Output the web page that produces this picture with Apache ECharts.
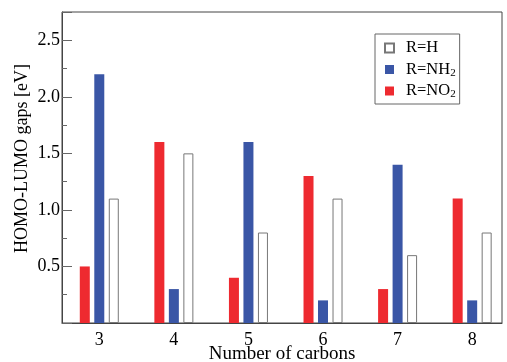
<!DOCTYPE html>
<html>
<head>
<meta charset="utf-8">
<script src="https://cdn.jsdelivr.net/npm/echarts@6/dist/echarts.min.js"></script>
<style>html,body{margin:0;padding:0;background:#fff}#c{width:507px;height:362px}</style>
</head>
<body>
<div id="c"></div>
<script>
var carbons = [3, 4, 5, 6, 7, 8];
var gapNO2 = [0.5, 1.6, 0.4, 1.3, 0.3, 1.1];
var gapNH2 = [2.2, 0.3, 1.6, 0.2, 1.4, 0.2];
var gapH   = [1.1, 1.5, 0.8, 1.1, 0.6, 0.8];
var seriesNames = ['R=NO2', 'R=NH2', 'R=H'];
var legendOrder = ['R=H', 'R=NH2', 'R=NO2'];
var xTitle = 'Number of carbons';
var yTitle = 'HOMO-LUMO gaps [eV]';

var FONT = 'Liberation Serif';
function pairs(vals) { return carbons.map(function (c, i) { return [c, vals[i]]; }); }

var chart = echarts.init(document.getElementById('c'), null, {renderer: 'canvas'});
chart.setOption({
  animation: false,
  backgroundColor: '#fff',
  textStyle: {fontFamily: FONT, color: '#000'},
  grid: {left: 62, top: 12, right: 5, bottom: 39, outerBoundsMode: 'none', containLabel: false,
    show: true, borderColor: '#444', borderWidth: 1, backgroundColor: 'transparent'},
  legend: {
    orient: 'vertical',
    left: 375, top: 34,
    data: legendOrder,
    borderColor: '#666', borderWidth: 1,
    padding: [5, 4, 4, 9],
    itemWidth: 9, itemHeight: 9,
    itemGap: 3.5,
    icon: 'rect',
    textStyle: {fontFamily: FONT, fontSize: 16.5, color: '#000', padding: [0, 0, 0, 7], lineHeight: 18,
      rich: {
        sub: {fontFamily: FONT, fontSize: 11, color: '#000', padding: [7, 0, 0, 0], lineHeight: 11}
      }},
    formatter: function (n) {
      return n.replace(/(\d)$/, '{sub|$1}');
    }
  },
  xAxis: {
    type: 'value', min: 2.5, max: 8.4, interval: 0.5,
    name: xTitle, nameLocation: 'middle', nameGap: 22, nameMoveOverlap: false,
    nameTextStyle: {fontFamily: FONT, fontSize: 19, color: '#000'},
    axisLine: {show: true, lineStyle: {color: '#444'}},
    axisTick: {show: false},
    splitLine: {show: false},
    axisLabel: {fontFamily: FONT, fontSize: 18, color: '#000', margin: 8,
      formatter: function (v) { return Math.abs(v - Math.round(v)) < 1e-6 ? String(Math.round(v)) : ''; }}
  },
  yAxis: {
    type: 'value', min: 0, max: 2.75, interval: 0.5,
    name: yTitle, nameLocation: 'middle', nameGap: 31, nameMoveOverlap: false,
    nameTextStyle: {fontFamily: FONT, fontSize: 18, color: '#000', padding: [0, 0, 0, 18]},
    axisLine: {show: true, lineStyle: {color: '#444'}},
    axisTick: {show: true, inside: true, length: 10, lineStyle: {color: '#666'}},
    minorTick: {show: true, splitNumber: 2, length: 5, lineStyle: {color: '#666'}},
    splitLine: {show: false},
    axisLabel: {fontFamily: FONT, fontSize: 18, color: '#000', margin: 2,
      formatter: function (v) {
        if (v <= 0) return '';
        var r = v / 0.5;
        return Math.abs(r - Math.round(r)) < 1e-6 ? v.toFixed(1) : '';
      }}
  },
  series: [
    {name: seriesNames[0], type: 'bar', data: pairs(gapNO2), barWidth: 10, barGap: '45%',
     itemStyle: {color: '#ee2a30'}},
    {name: seriesNames[1], type: 'bar', data: pairs(gapNH2), barWidth: 10, barGap: '45%',
     itemStyle: {color: '#3a56a6'}},
    {name: seriesNames[2], type: 'bar', data: pairs(gapH), barWidth: 10, barGap: '45%',
     itemStyle: {color: '#ffffff', borderColor: '#777', borderWidth: 1}}
  ]
});
</script>
</body>
</html>
